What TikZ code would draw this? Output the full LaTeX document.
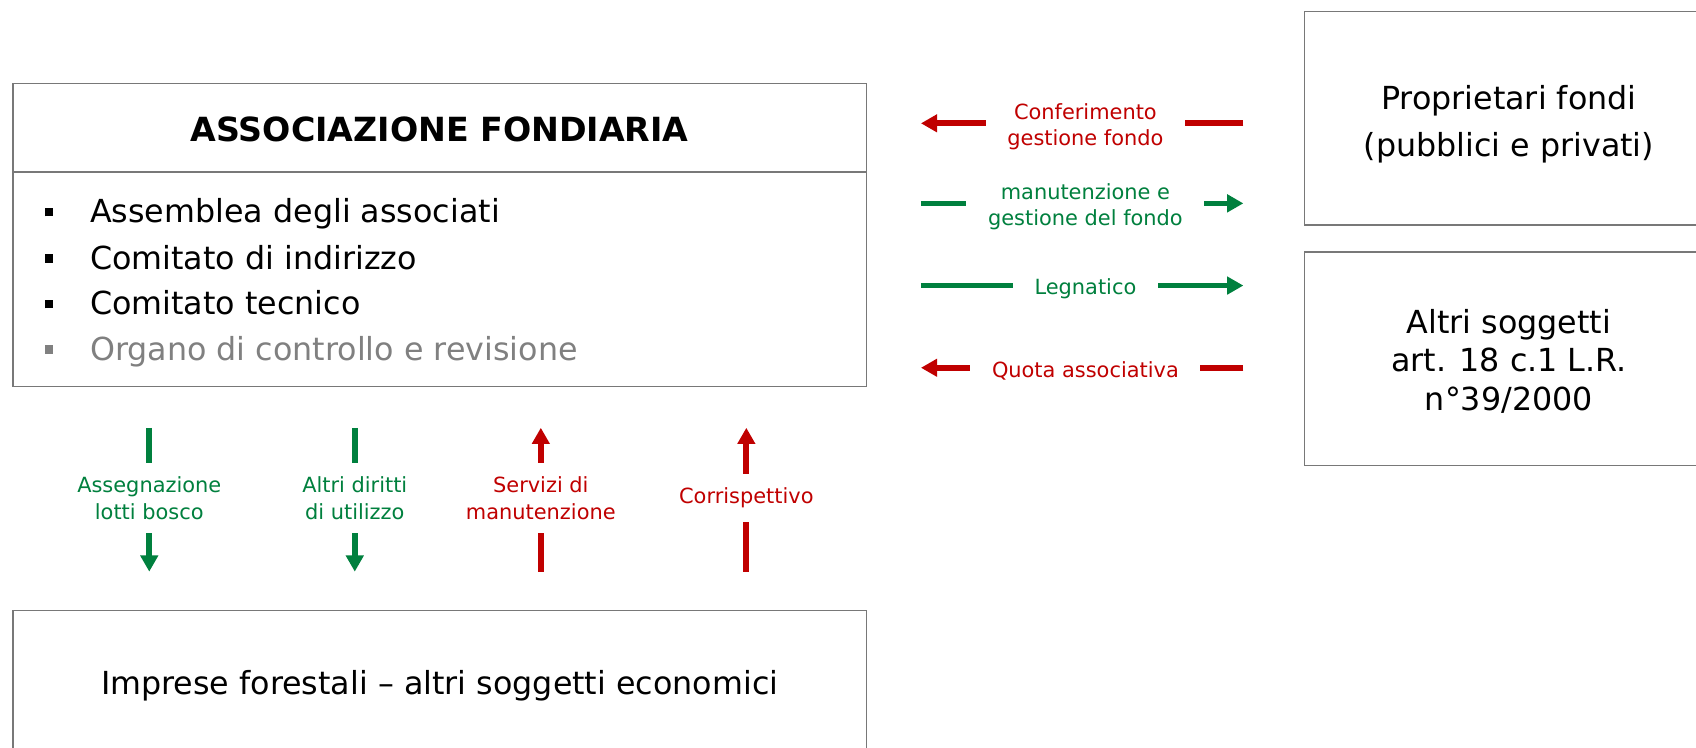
\documentclass[tikz,border=0pt]{standalone}
\usepackage{fontspec}
\setmainfont{DejaVu Sans}
\usepackage{tikz}
\usepackage{xcolor}
\usetikzlibrary{positioning}
\usetikzlibrary{calc}
\usetikzlibrary{arrows.meta}
\definecolor{flowred}{RGB}{192, 0, 0}
\definecolor{flowgreen}{RGB}{0, 128, 62}
\definecolor{boxline}{RGB}{120, 120, 120}
\definecolor{greytext}{RGB}{128, 128, 128}
\tikzstyle{box} = [
	draw=boxline,
	line width=0.6pt,
]
\tikzstyle{boxtext} = [
	align=center,
	font=\fontsize{16.7}{24.4}\selectfont,
]
\tikzstyle{item} = [
	anchor=base west,
	inner sep=0pt,
	font=\fontsize{16.7}{20}\selectfont,
]
\tikzstyle{redflow} = [
	line width=3pt,
	draw=flowred,
	-{Triangle[width=9pt, length=8.5pt]},
]
\tikzstyle{greenflow} = [
	line width=3pt,
	draw=flowgreen,
	-{Triangle[width=9pt, length=8.5pt]},
]
\tikzstyle{hlabel} = [
	fill=white,
	inner xsep=0.4cm,
	inner ysep=0pt,
	yshift=-0.06cm,
	align=center,
	font=\fontsize{11}{14}\selectfont,
]
\tikzstyle{vlabel} = [
	fill=white,
	inner xsep=0.1cm,
	inner ysep=0.25cm,
	align=center,
	font=\fontsize{11}{14}\selectfont,
]
\newcommand{\sqbullet}{\rule[0.12cm]{0.16cm}{0.16cm}\hspace{0.68cm}}

\begin{document}
\begin{tikzpicture}[x=0.02cm, y=-0.02cm]
	\useasboundingbox (0,0) rectangle (1568,691);
	\clip (0,0) rectangle (1568,691);

	%
	% Boxes
	\node[box, minimum width=15.78cm, minimum height=5.6cm] (assoc) at (406.5,217) {};
	\node[box, minimum width=7.56cm, minimum height=3.94cm] (prop) at (1395,109.5) {};
	\node[boxtext] (proptext) at (1395,115) {Proprietari fondi\\(pubblici e privati)};
	\node[box, minimum width=7.56cm, minimum height=3.94cm] (altri) at (1395,331.5) {};
	\node[boxtext, font=\fontsize{16.7}{20.4}\selectfont] (altritext) at (1395,334) {Altri soggetti\\art. 18 c.1 L.R.\\n°39/2000};
	\node[box, minimum width=15.78cm, minimum height=2.64cm] (imprese) at (406.5,630) {};
	\node[boxtext] (impresetext) at (406.5,634) {Imprese forestali – altri soggetti economici};

	%
	% Inside the association
	\node[font=\fontsize{17.5}{20}\selectfont\bfseries] (title) at (406.5,119.5) {ASSOCIAZIONE FONDIARIA};
	\draw[boxline, line width=0.6pt] (assoc.west |- 0,159) -- (assoc.east |- 0,159);
	\node[item] (assemblea) at (41,206) {\sqbullet Assemblea degli associati};
	\node[item] (indirizzo) at (41,249) {\sqbullet Comitato di indirizzo};
	\node[item] (tecnico) at (41,291) {\sqbullet Comitato tecnico};
	\node[item, text=greytext] (controllo) at (41,333) {\sqbullet Organo di controllo e revisione};

	%
	% Flows with the owners and other subjects
	\draw[redflow, shorten <=1.12cm, shorten >=1cm] (prop.west |- 0,114) -- (assoc.east |- 0,114)
		node[midway, hlabel, text=flowred] (conferimento) {Conferimento\\gestione fondo};
	\draw[greenflow, shorten <=1cm, shorten >=1.12cm] (assoc.east |- 0,188) -- (prop.west |- 0,188)
		node[midway, hlabel, text=flowgreen] (manutenzione) {manutenzione e\\gestione del fondo};
	\draw[greenflow, shorten <=1cm, shorten >=1.12cm] (assoc.east |- 0,264) -- (altri.west |- 0,264)
		node[midway, hlabel, text=flowgreen] (legnatico) {Legnatico};
	\draw[redflow, shorten <=1.12cm, shorten >=1cm] (altri.west |- 0,340) -- (assoc.east |- 0,340)
		node[midway, hlabel, text=flowred] (quota) {Quota associativa};

	%
	% Flows with the forest companies
	\draw[greenflow, shorten <=0.76cm, shorten >=0.7cm] (assoc.south -| 138,0) -- (imprese.north -| 138,0)
		node[midway, vlabel, text=flowgreen] (lotti) {Assegnazione\\lotti bosco};
	\draw[greenflow, shorten <=0.76cm, shorten >=0.7cm] (assoc.south -| 328,0) -- (imprese.north -| 328,0)
		node[midway, vlabel, text=flowgreen] (diritti) {Altri diritti\\di utilizzo};
	\draw[redflow, shorten <=0.7cm, shorten >=0.76cm] (imprese.north -| 500,0) -- (assoc.south -| 500,0)
		node[midway, vlabel, text=flowred] (servizi) {Servizi di\\manutenzione};
	\draw[redflow, shorten <=0.7cm, shorten >=0.76cm] (imprese.north -| 690,0) -- (assoc.south -| 690,0)
		node[midway, vlabel, text=flowred] (corrispettivo) {Corrispettivo};

\end{tikzpicture}
\end{document}
